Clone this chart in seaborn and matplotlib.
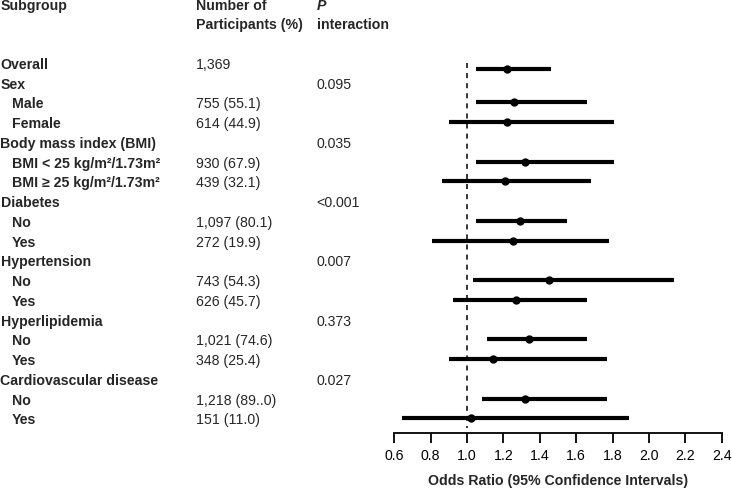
import numpy as np
import pandas as pd
import matplotlib
matplotlib.use("Agg")
import matplotlib.pyplot as plt
import matplotlib.transforms as mtrans
import seaborn as sns

# Zeilen der Tabelle (Subgroup, Teilnehmer, P interaction)
labels = ["Overall", "Sex", "Male", "Female", "Body mass index (BMI)",
          "BMI < 25 kg/m\u00b2/1.73m\u00b2", "BMI \u2265 25 kg/m\u00b2/1.73m\u00b2",
          "Diabetes", "No", "Yes", "Hypertension", "No", "Yes",
          "Hyperlipidemia", "No", "Yes", "Cardiovascular disease", "No", "Yes"]
indent = [0, 0, 1, 1, 0, 1, 1, 0, 1, 1, 0, 1, 1, 0, 1, 1, 0, 1, 1]
participants = ["1,369", "", "755 (55.1)", "614 (44.9)", "", "930 (67.9)",
                "439 (32.1)", "", "1,097 (80.1)", "272 (19.9)", "",
                "743 (54.3)", "626 (45.7)", "", "1,021 (74.6)", "348 (25.4)",
                "", "1,218 (89..0)", "151 (11.0)"]
p_inter = ["", "0.095", "", "", "0.035", "", "", "<0.001", "", "", "0.007",
           "", "", "0.373", "", "", "0.027", "", ""]

nan = np.nan
odds = [1.22, nan, 1.26, 1.22, nan, 1.32, 1.21, nan, 1.29, 1.25, nan,
        1.45, 1.27, nan, 1.34, 1.14, nan, 1.32, 1.02]
ci_low = [1.05, nan, 1.05, 0.90, nan, 1.05, 0.86, nan, 1.05, 0.81, nan,
          1.03, 0.92, nan, 1.11, 0.90, nan, 1.08, 0.64]
ci_high = [1.46, nan, 1.66, 1.81, nan, 1.81, 1.68, nan, 1.55, 1.78, nan,
           2.14, 1.66, nan, 1.66, 1.77, nan, 1.77, 1.89]

xticks = [0.6, 0.8, 1.0, 1.2, 1.4, 1.6, 1.8, 2.0, 2.2, 2.4]

df = pd.DataFrame({"row": np.arange(len(labels)), "or": odds,
                   "lo": ci_low, "hi": ci_high}).dropna()
# die Balken sitzen leicht ueber dem Text, Overall etwas darunter
df["ypos"] = df["row"] - 0.1
df.loc[df["row"] == 0, "ypos"] = 0.2

sns.set_style("white")
plt.rcParams["font.family"] = ["Liberation Sans", "DejaVu Sans"]
plt.rcParams["font.size"] = 10.2

W, H = 732, 488
fig = plt.figure(figsize=(W / 100, H / 100), dpi=100)
ax = fig.add_axes([394.3 / W, 1 - 433 / H, (721.7 - 394.3) / W, 433 / H])

ax.hlines(df["ypos"], df["lo"], df["hi"], color="black", lw=3)
sns.scatterplot(data=df, x="or", y="ypos", ax=ax, color="black", s=36,
                edgecolor="black", linewidth=0, zorder=3)
ax.plot([1.0, 1.0], [-0.1, 18.4], color="black", lw=1.1,
        linestyle=(0, (3.3, 3.3)))

ax.set_xlim(0.6, 2.4)
ax.set_ylim(18.64, -3.29)
ax.set_xticks(xticks)
ax.set_xticklabels([f"{t:.1f}" for t in xticks])
ax.set_yticks([])
ax.set_ylabel("")
ax.set_xlabel("Odds Ratio (95% Confidence Intervals)", fontweight="bold",
              labelpad=8)
for s in ["left", "top", "right"]:
    ax.spines[s].set_visible(False)
ax.spines["bottom"].set_linewidth(1.3)
ax.spines["bottom"].set_color("black")
ax.tick_params(axis="x", direction="out", length=7.5, width=1.3, pad=4,
               bottom=True, colors="black", labelsize=10.2)

tr = mtrans.blended_transform_factory(fig.transFigure, ax.transData)
col_sub, col_ind, col_n, col_p = 0.5 / W, 12 / W, 195.7 / W, 316.7 / W

# Kopfzeile
ax.text(col_sub, -3.0, "Subgroup", transform=tr, fontweight="bold",
        va="center", clip_on=False)
ax.text(col_n, -3.0, "Number of", transform=tr, fontweight="bold",
        va="center", clip_on=False)
ax.text(col_n, -2.0, "Participants (%)", transform=tr, fontweight="bold",
        va="center", clip_on=False)
ax.text(col_p, -3.0, "P", transform=tr, fontweight="bold", style="italic",
        va="center", clip_on=False)
ax.text(col_p, -2.0, "interaction", transform=tr, fontweight="bold",
        va="center", clip_on=False)

for i, lab in enumerate(labels):
    x = col_ind if indent[i] else col_sub
    ax.text(x, i, lab, transform=tr, fontweight="bold", va="center",
            clip_on=False)
    ax.text(col_n, i, participants[i], transform=tr, va="center",
            clip_on=False)
    ax.text(col_p, i, p_inter[i], transform=tr, va="center", clip_on=False)

fig.savefig("out.png", dpi=100)
